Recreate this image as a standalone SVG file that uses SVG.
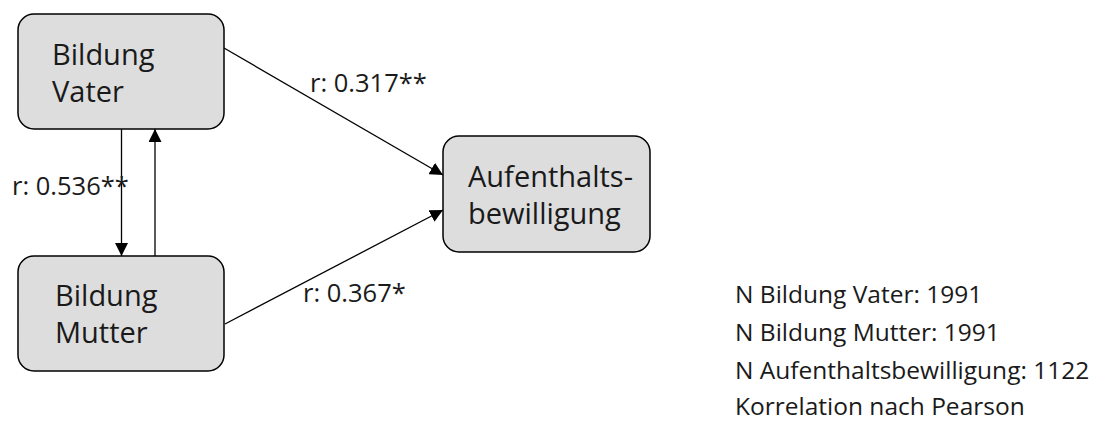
<svg xmlns="http://www.w3.org/2000/svg" width="1111" height="422" viewBox="0 0 1111 422">
<defs>
<style>
.node rect{fill:#dddddd;stroke:#000;stroke-width:1.5}
.nt{font-family:"Open Sans","Noto Sans",sans-serif;font-size:29px;fill:#1a1a1a}
.lbl{font-family:"Open Sans","Noto Sans",sans-serif;font-size:25.5px;fill:#1a1a1a}
.leg{font-family:"Open Sans","Noto Sans",sans-serif;font-size:24.5px;fill:#1a1a1a}
.conn line{stroke:#000;stroke-width:1.3;marker-end:url(#ah)}
</style>
<marker id="ah" viewBox="0 0 13 13" refX="13" refY="6.5" markerWidth="13" markerHeight="13" markerUnits="userSpaceOnUse" orient="auto">
<path d="M0,0 L13,6.5 L0,13 Z" fill="#000"/>
</marker>
</defs>
<rect width="1111" height="422" fill="#fff"/>
<g id="connectors" class="conn">
<line x1="224" y1="48" x2="443" y2="175"/>
<line x1="225" y1="324" x2="443" y2="210"/>
<line x1="121.5" y1="129" x2="121.5" y2="256"/>
<line x1="155" y1="256" x2="155" y2="129"/>
</g>
<g id="n-vater" class="node">
<rect x="18" y="14" width="206" height="115" rx="16"/>
<text class="nt" x="52" y="65">Bildung</text>
<text class="nt" x="52" y="102">Vater</text>
</g>
<g id="n-mutter" class="node">
<rect x="18" y="256" width="206" height="115" rx="16"/>
<text class="nt" x="55" y="306">Bildung</text>
<text class="nt" x="55" y="343">Mutter</text>
</g>
<g id="n-aufenthalt" class="node">
<rect x="443" y="136" width="207" height="116" rx="16"/>
<text class="nt" x="468" y="187">Aufenthalts-</text>
<text class="nt" x="468" y="224">bewilligung</text>
</g>
<g id="labels">
<text class="lbl" x="310" y="92">r: 0.317**</text>
<text class="lbl" x="12" y="195">r: 0.536**</text>
<text class="lbl" x="303" y="302">r: 0.367*</text>
</g>
<g id="legend">
<text class="leg" x="735" y="303">N Bildung Vater: 1991</text>
<text class="leg" x="735" y="341">N Bildung Mutter: 1991</text>
<text class="leg" x="735" y="379">N Aufenthaltsbewilligung: 1122</text>
<text class="leg" x="735" y="415">Korrelation nach Pearson</text>
</g>
</svg>
